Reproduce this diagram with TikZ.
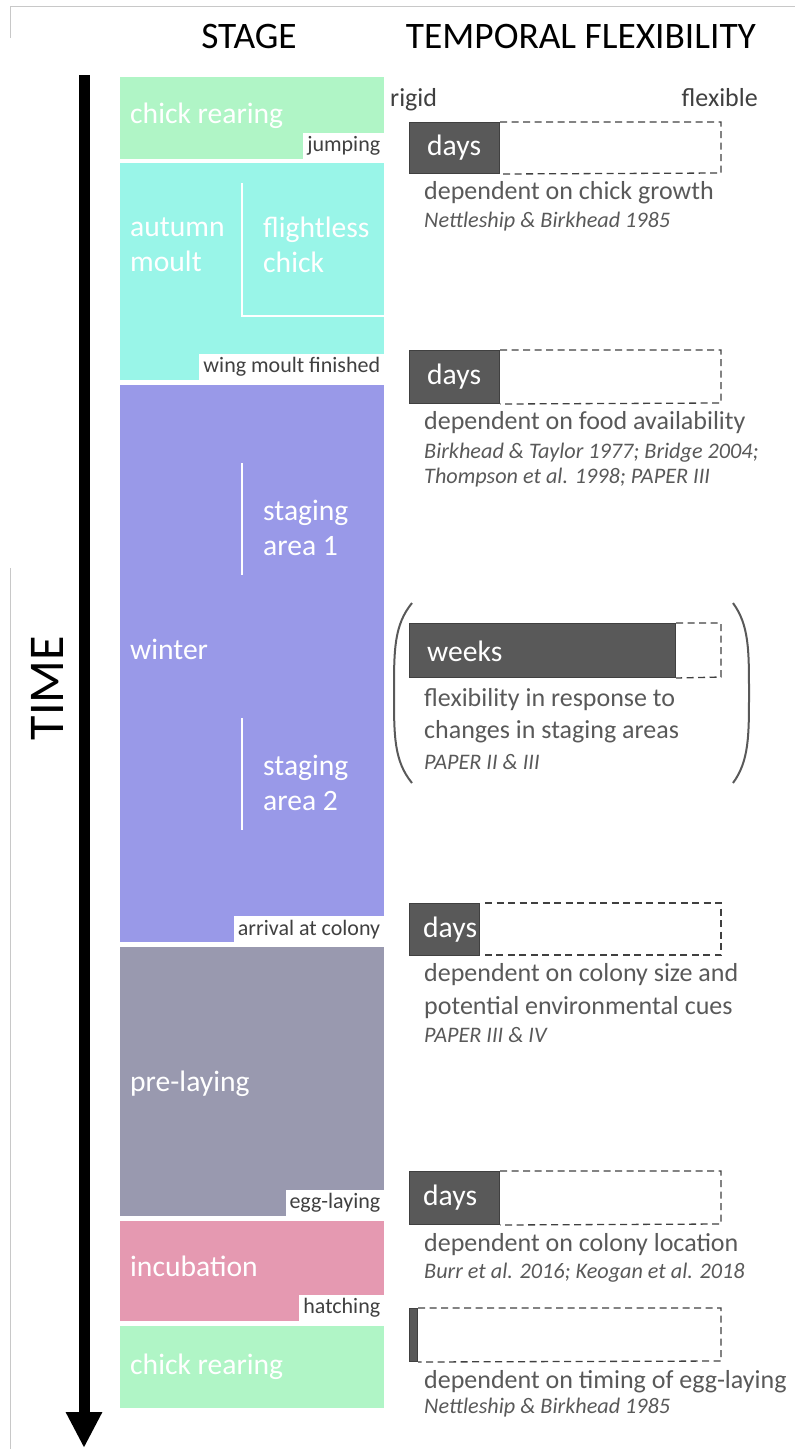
\documentclass[tikz,border=0pt]{standalone}
\usepackage{fontspec}
\setmainfont{Carlito}
\usetikzlibrary{arrows.meta}
\definecolor{cgreen}{HTML}{B0F5C6}
\definecolor{ccyan}{HTML}{99F5E8}
\definecolor{cwinter}{HTML}{9999E8}
\definecolor{cprelay}{HTML}{9999AF}
\definecolor{cpink}{HTML}{E599B1}
\definecolor{tgray}{HTML}{595959}
\definecolor{tdark}{HTML}{404040}
\definecolor{framegray}{HTML}{C8C8C8}
\newcommand\fhead{\fontsize{37.4}{40}\selectfont}
\newcommand\ftime{\fontsize{50}{56}\selectfont}
\newcommand\fstage{\fontsize{29.6}{35}\selectfont}
\newcommand\ftab{\fontsize{22}{24}\selectfont}
\newcommand\fdesc{\fontsize{26}{30}\selectfont}
\newcommand\fcite{\fontsize{22.2}{25}\selectfont}
\begin{document}
\begin{tikzpicture}[x=1pt,y=-1pt,
  stagebox/.style={draw=none, anchor=north west, inner sep=0pt},
  stagelabel/.style={anchor=west, inner sep=0pt, text=white, font=\fstage},
  tabbox/.style={anchor=south east, fill=white, text=tdark, font=\ftab, inner xsep=4pt, inner ysep=0pt, minimum height=26pt},
  darkbar/.style={anchor=north west, fill=tgray, draw=tdark, line width=1pt, inner sep=0pt},
  dashbox/.style={draw=tdark, line width=1.3pt, dash pattern=on 7pt off 4.5pt},
  barlabel/.style={anchor=west, inner sep=0pt, text=white, font=\fstage},
  desc/.style={anchor=west, inner sep=0pt, text=tgray, font=\fdesc},
  cite/.style={anchor=west, inner sep=0pt, text=tgray, font=\fcite\itshape},
  divider/.style={draw=white, line width=1.5pt},
  paren/.style={draw=tgray, line width=2pt}
]
\useasboundingbox (0,0) rectangle (795,1449);
% frame lines
\draw[framegray, line width=1pt] (10,38) -- (10,6) -- (795,6);
\draw[framegray, line width=1pt] (10,568) -- (10,1449);

% headers
\node[font=\fhead, inner sep=0pt] (hstage) at (249,36) {STAGE};
\node[font=\fhead, inner sep=0pt] (hflex) at (581,36) {TEMPORAL FLEXIBILITY};
\node[font=\ftime, inner sep=0pt, rotate=90] (htime) at (47,688) {TIME};

% time arrow
\coordinate (tstart) at (84,75);
\coordinate (tend) at (84,1448);
\draw[line width=11pt, -{Triangle[width=34pt,length=36pt]}] (tstart) -- (tend);

% stage boxes
\node[stagebox, fill=cgreen, minimum width=264pt, minimum height=82pt] (s1) at (120,77) {};
\node[stagelabel] (l1) at (130,116) {chick rearing};
\node[tabbox] (t1) at (s1.south east) {jumping};

\node[stagebox, fill=ccyan, minimum width=264pt, minimum height=217pt] (s2) at (120,163) {};
\node[stagelabel, align=left] (l2) at (130,245) {autumn\\moult};
\node[stagelabel, align=left] (l2b) at (263,245) {flightless\\chick};
\coordinate (d2a) at (242,183);
\coordinate (d2b) at (242,316);
\coordinate (d2c) at (384,316);
\draw[divider] (d2a) -- (d2b) -- (d2c);
\node[tabbox] (t2) at (s2.south east) {wing moult finished};

\node[stagebox, fill=cwinter, minimum width=264pt, minimum height=557pt] (s3) at (120,385) {};
\node[stagelabel] (l3) at (130,649) {winter};
\node[stagelabel, align=left] (l3a) at (263,528) {staging\\area 1};
\node[stagelabel, align=left] (l3b) at (263,783) {staging\\area 2};
\coordinate (d3a) at (242,463);
\coordinate (d3b) at (242,575);
\coordinate (d3c) at (242,718);
\coordinate (d3d) at (242,830);
\draw[divider] (d3a) -- (d3b);
\draw[divider] (d3c) -- (d3d);
\node[tabbox] (t3) at (s3.south east) {arrival at colony};

\node[stagebox, fill=cprelay, minimum width=264pt, minimum height=269pt] (s4) at (120,947) {};
\node[stagelabel] (l4) at (130,1084) {pre-laying};
\node[tabbox] (t4) at (s4.south east) {egg-laying};

\node[stagebox, fill=cpink, minimum width=264pt, minimum height=100pt] (s5) at (120,1221) {};
\node[stagelabel] (l5) at (130,1266) {incubation};
\node[tabbox] (t5) at (s5.south east) {hatching};

\node[stagebox, fill=cgreen, minimum width=264pt, minimum height=82pt] (s6) at (120,1326) {};
\node[stagelabel] (l6) at (130,1367) {chick rearing};

% rigid / flexible
\node[anchor=west, inner sep=0pt, text=tdark, font=\fdesc] (rigid) at (390,100) {rigid};
\node[anchor=east, inner sep=0pt, text=tdark, font=\fdesc] (flexible) at (758,98) {flexible};

% bar 1
\node[darkbar, minimum width=90pt, minimum height=51pt] (b1) at (409,122) {};
\draw[dashbox] (b1.north east) -- (721,122) -- (721,173) -- (b1.south east);
\node[barlabel] (bl1) at (427,148) {days};
\node[desc] (de1) at (424,193) {dependent on chick growth};
\node[cite] (c1) at (424,222) {Nettleship \& Birkhead 1985};

% bar 2
\node[darkbar, minimum width=90pt, minimum height=53pt] (b2) at (409,350) {};
\draw[dashbox] (b2.north east) -- (721,350) -- (721,403) -- (b2.south east);
\node[barlabel] (bl2) at (427,377) {days};
\node[desc] (de2) at (424,423) {dependent on food availability};
\node[cite] (c2) at (424,453) {Birkhead \& Taylor 1977; Bridge 2004;};
\node[cite] (c2b) at (424,478) {Thompson et al. 1998; PAPER III};

% bar 3
\node[darkbar, minimum width=266pt, minimum height=54pt] (b3) at (409,623) {};
\draw[dashbox] (b3.north east) -- (721,623) -- (721,677) -- (b3.south east);
\node[barlabel] (bl3) at (427,651) {weeks};
\node[desc] (de3) at (424,700) {flexibility in response to};
\node[desc] (de3b) at (424,732) {changes in staging areas};
\node[cite] (c3) at (424,762) {PAPER II \& III};
\coordinate (pl1) at (412,603);
\coordinate (pl2) at (412,783);
\coordinate (pr1) at (733,603);
\coordinate (pr2) at (733,783);
\draw[paren] (pl1) .. controls (394,625) and (394,650) .. (394,693) .. controls (394,736) and (394,761) .. (pl2);
\draw[paren] (pr1) .. controls (749,625) and (749,650) .. (749,693) .. controls (749,736) and (749,761) .. (pr2);

% bar 4
\node[darkbar, minimum width=70pt, minimum height=52pt] (b4) at (409,903) {};
\coordinate (b4s) at (485,903);
\coordinate (b4e) at (485,955);
\draw[dashbox] (b4s) -- (721,903) -- (721,955) -- (b4e);
\node[barlabel] (bl4) at (423,930) {days};
\node[desc] (de4) at (424,975) {dependent on colony size and};
\node[desc] (de4b) at (424,1008) {potential environmental cues};
\node[cite] (c4) at (424,1035) {PAPER III \& IV};

% bar 5
\node[darkbar, minimum width=90pt, minimum height=53pt] (b5) at (409,1171) {};
\draw[dashbox] (b5.north east) -- (721,1171) -- (721,1224) -- (b5.south east);
\node[barlabel] (bl5) at (423,1198) {days};
\node[desc] (de5) at (424,1245) {dependent on colony location};
\node[cite] (c5) at (424,1273) {Burr et al. 2016; Keogan et al. 2018};

% bar 6
\node[darkbar, minimum width=8pt, minimum height=53pt] (b6) at (409,1308) {};
\draw[dashbox] (b6.north east) -- (721,1308) -- (721,1361) -- (b6.south east);
\node[desc] (de6) at (424,1382) {dependent on timing of egg-laying};
\node[cite] (c6) at (424,1408) {Nettleship \& Birkhead 1985};
\end{tikzpicture}
\end{document}
